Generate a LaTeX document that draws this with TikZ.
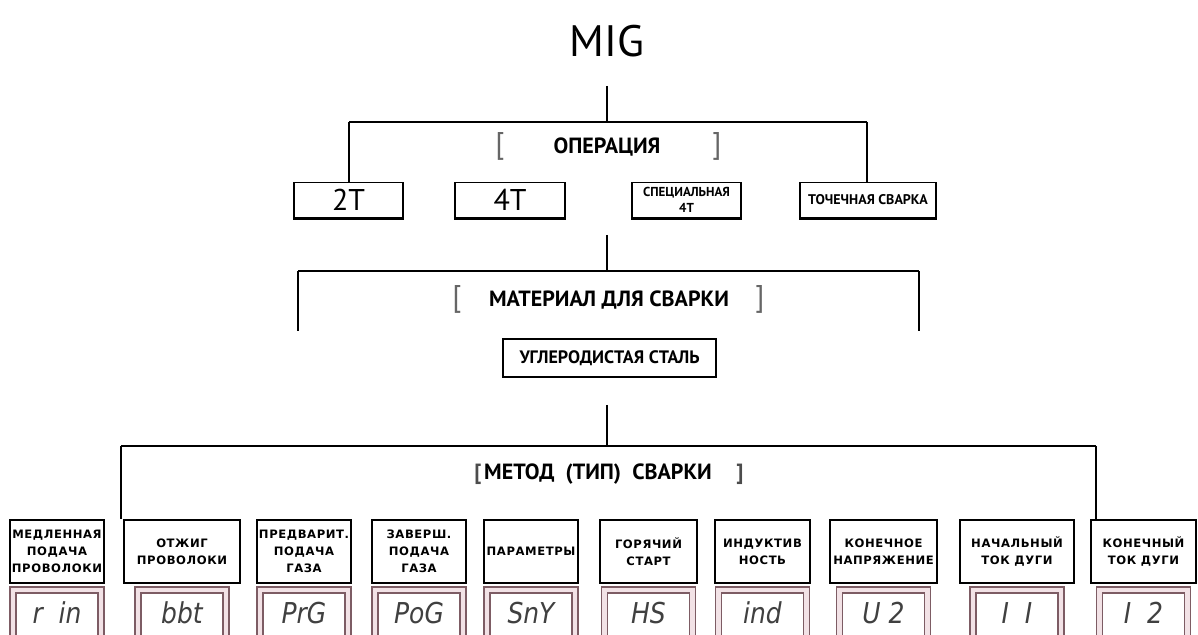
\documentclass[tikz,border=0pt]{standalone}
\usepackage{fontspec}
\usepackage{graphicx}
\setmainfont{PT Sans}
\newfontfamily\lblfont{DejaVu Sans}[LetterSpace=5]
\newfontfamily\segfont{DejaVu Sans}
\definecolor{segrim}{RGB}{125,92,100}
\definecolor{segfill}{RGB}{242,226,230}
\tikzset{
  head/.style={font=\bfseries\fontsize{11}{12}\selectfont},
  brack/.style={font=\fontsize{15}{15}\selectfont, text=black!60},
  modebox/.style={draw, line width=0.7pt, fill=white, minimum height=17.5pt, inner sep=1pt, align=center},
  lblbox/.style={draw, line width=1pt, minimum height=31.5pt, inner sep=0.5pt, align=center,
    font=\lblfont\bfseries\fontsize{5.8}{8.5}\selectfont},
  segbox/.style={draw=segrim, line width=0.6pt, double=segfill, double distance=2.4pt, fill=white,
    minimum width=44pt, minimum height=25pt, inner sep=0pt},
  segval/.style={inner sep=0pt, text=black!75, font=\segfont\itshape\fontsize{12.5}{13}\selectfont},
  bar/.style={line width=1.3pt},
  stem/.style={line width=0.7pt}
}
\begin{document}
\begin{tikzpicture}[x=0.5pt,y=-0.5pt]
    \clip (0,0) rectangle (1198,635);
    %title
    \node[font=\fontsize{22}{24}\selectfont] (mig) at (607,41) {MIG};
    \coordinate (s1) at (607,86);
    \coordinate (j1) at (607,122);
    \coordinate (l1) at (349,122);
    \coordinate (r1) at (867,122);
    %operation
    \node[brack] (ob1) at (500,146) {[};
    \node[brack] (ob2) at (717,146) {]};
    \node[head] (op) at (607,147) {ОПЕРАЦИЯ};
    \node[modebox, minimum width=54.5pt, font=\fontsize{15}{15}\selectfont] (t2) at (348.5,200) {2T};
    \node[modebox, minimum width=55pt, font=\fontsize{15}{15}\selectfont] (t4) at (510,200) {4T};
    \node[modebox, minimum width=54.5pt, font=\bfseries\fontsize{6.5}{8}\selectfont] (ts) at (686.5,200) {СПЕЦИАЛЬНАЯ\\4Т};
    \node[modebox, minimum width=68pt, font=\bfseries\fontsize{7}{8}\selectfont] (tp) at (868,200) {ТОЧЕЧНАЯ СВАРКА};
    \foreach \n in {t2,t4,ts,tp}
      \draw[line width=1.5pt] (\n.south west) -- (\n.south east);
    \draw[stem] (s1) -- (j1);
    \draw[bar] (l1) -- (r1);
    \draw[stem] (l1) -- (l1 |- t2.north);
    \draw[stem] (r1) -- (r1 |- tp.north);
    %material
    \coordinate (s2) at (607,235);
    \coordinate (j2) at (607,271);
    \coordinate (l2) at (298,271);
    \coordinate (r2) at (919,271);
    \coordinate (l2e) at (298,331);
    \coordinate (r2e) at (919,331);
    \draw[stem] (s2) -- (j2);
    \draw[bar] (l2) -- (r2);
    \draw[stem] (l2) -- (l2e);
    \draw[stem] (r2) -- (r2e);
    \node[brack] (mb1) at (457,299) {[};
    \node[brack] (mb2) at (760,299) {]};
    \node[head] (mat) at (609,300) {МАТЕРИАЛ ДЛЯ СВАРКИ};
    \node[draw, line width=1pt, minimum width=106.5pt, minimum height=19pt, font=\bfseries\fontsize{9}{10}\selectfont] (steel) at (609.5,358) {УГЛЕРОДИСТАЯ СТАЛЬ};
    %method
    \coordinate (s3) at (607,405);
    \coordinate (j3) at (607,446);
    \coordinate (l3) at (121,446);
    \coordinate (r3) at (1096,446);
    \coordinate (l3e) at (121,519);
    \coordinate (r3e) at (1096,519);
    \draw[stem] (s3) -- (j3);
    \draw[bar] (l3) -- (r3);
    \draw[stem] (l3) -- (l3e);
    \draw[stem] (r3) -- (r3e);
    \node[brack, font=\bfseries\fontsize{11}{12}\selectfont, text=black!70] (kb1) at (478,474) {[};
    \node[brack, font=\bfseries\fontsize{11}{12}\selectfont, text=black!70] (kb2) at (740,474) {]};
    \node[head] (met) at (598,474) {МЕТОД\ \ (ТИП)\ \ СВАРКИ};
    %parameters and displays
    \foreach \x/\w/\t/\d [count=\i] in {
      57/47/{МЕДЛЕННАЯ\\ПОДАЧА\\ПРОВОЛОКИ}/{r\ \ in},
      182/58/{ОТЖИГ\\ПРОВОЛОКИ}/{bbt},
      304/47/{ПРЕДВАРИТ.\\ПОДАЧА\\ГАЗА}/{PrG},
      419/47/{ЗАВЕРШ.\\ПОДАЧА\\ГАЗА}/{PoG},
      531/47/{ПАРАМЕТРЫ}/{SnY},
      648.5/48.5/{ГОРЯЧИЙ\\СТАРТ}/{HS},
      762.5/47.5/{ИНДУКТИВ\\НОСТЬ}/{ind},
      883.5/53.5/{КОНЕЧНОЕ\\НАПРЯЖЕНИЕ}/{U\ 2},
      1017/57/{НАЧАЛЬНЫЙ\\ТОК ДУГИ}/{I\ \ I},
      1143.5/52.5/{КОНЕЧНЫЙ\\ТОК ДУГИ}/{I\ \ 2}}
    {
      \node[lblbox, minimum width=\w pt] (m\i) at (\x,551.5) {\t};
      \node[segbox] (d\i) at (\x,615) {};
      \node[segval] (v\i) at (\x,613) {\scalebox{1}[1.15]{\d}};
    }
\end{tikzpicture}
\end{document}
